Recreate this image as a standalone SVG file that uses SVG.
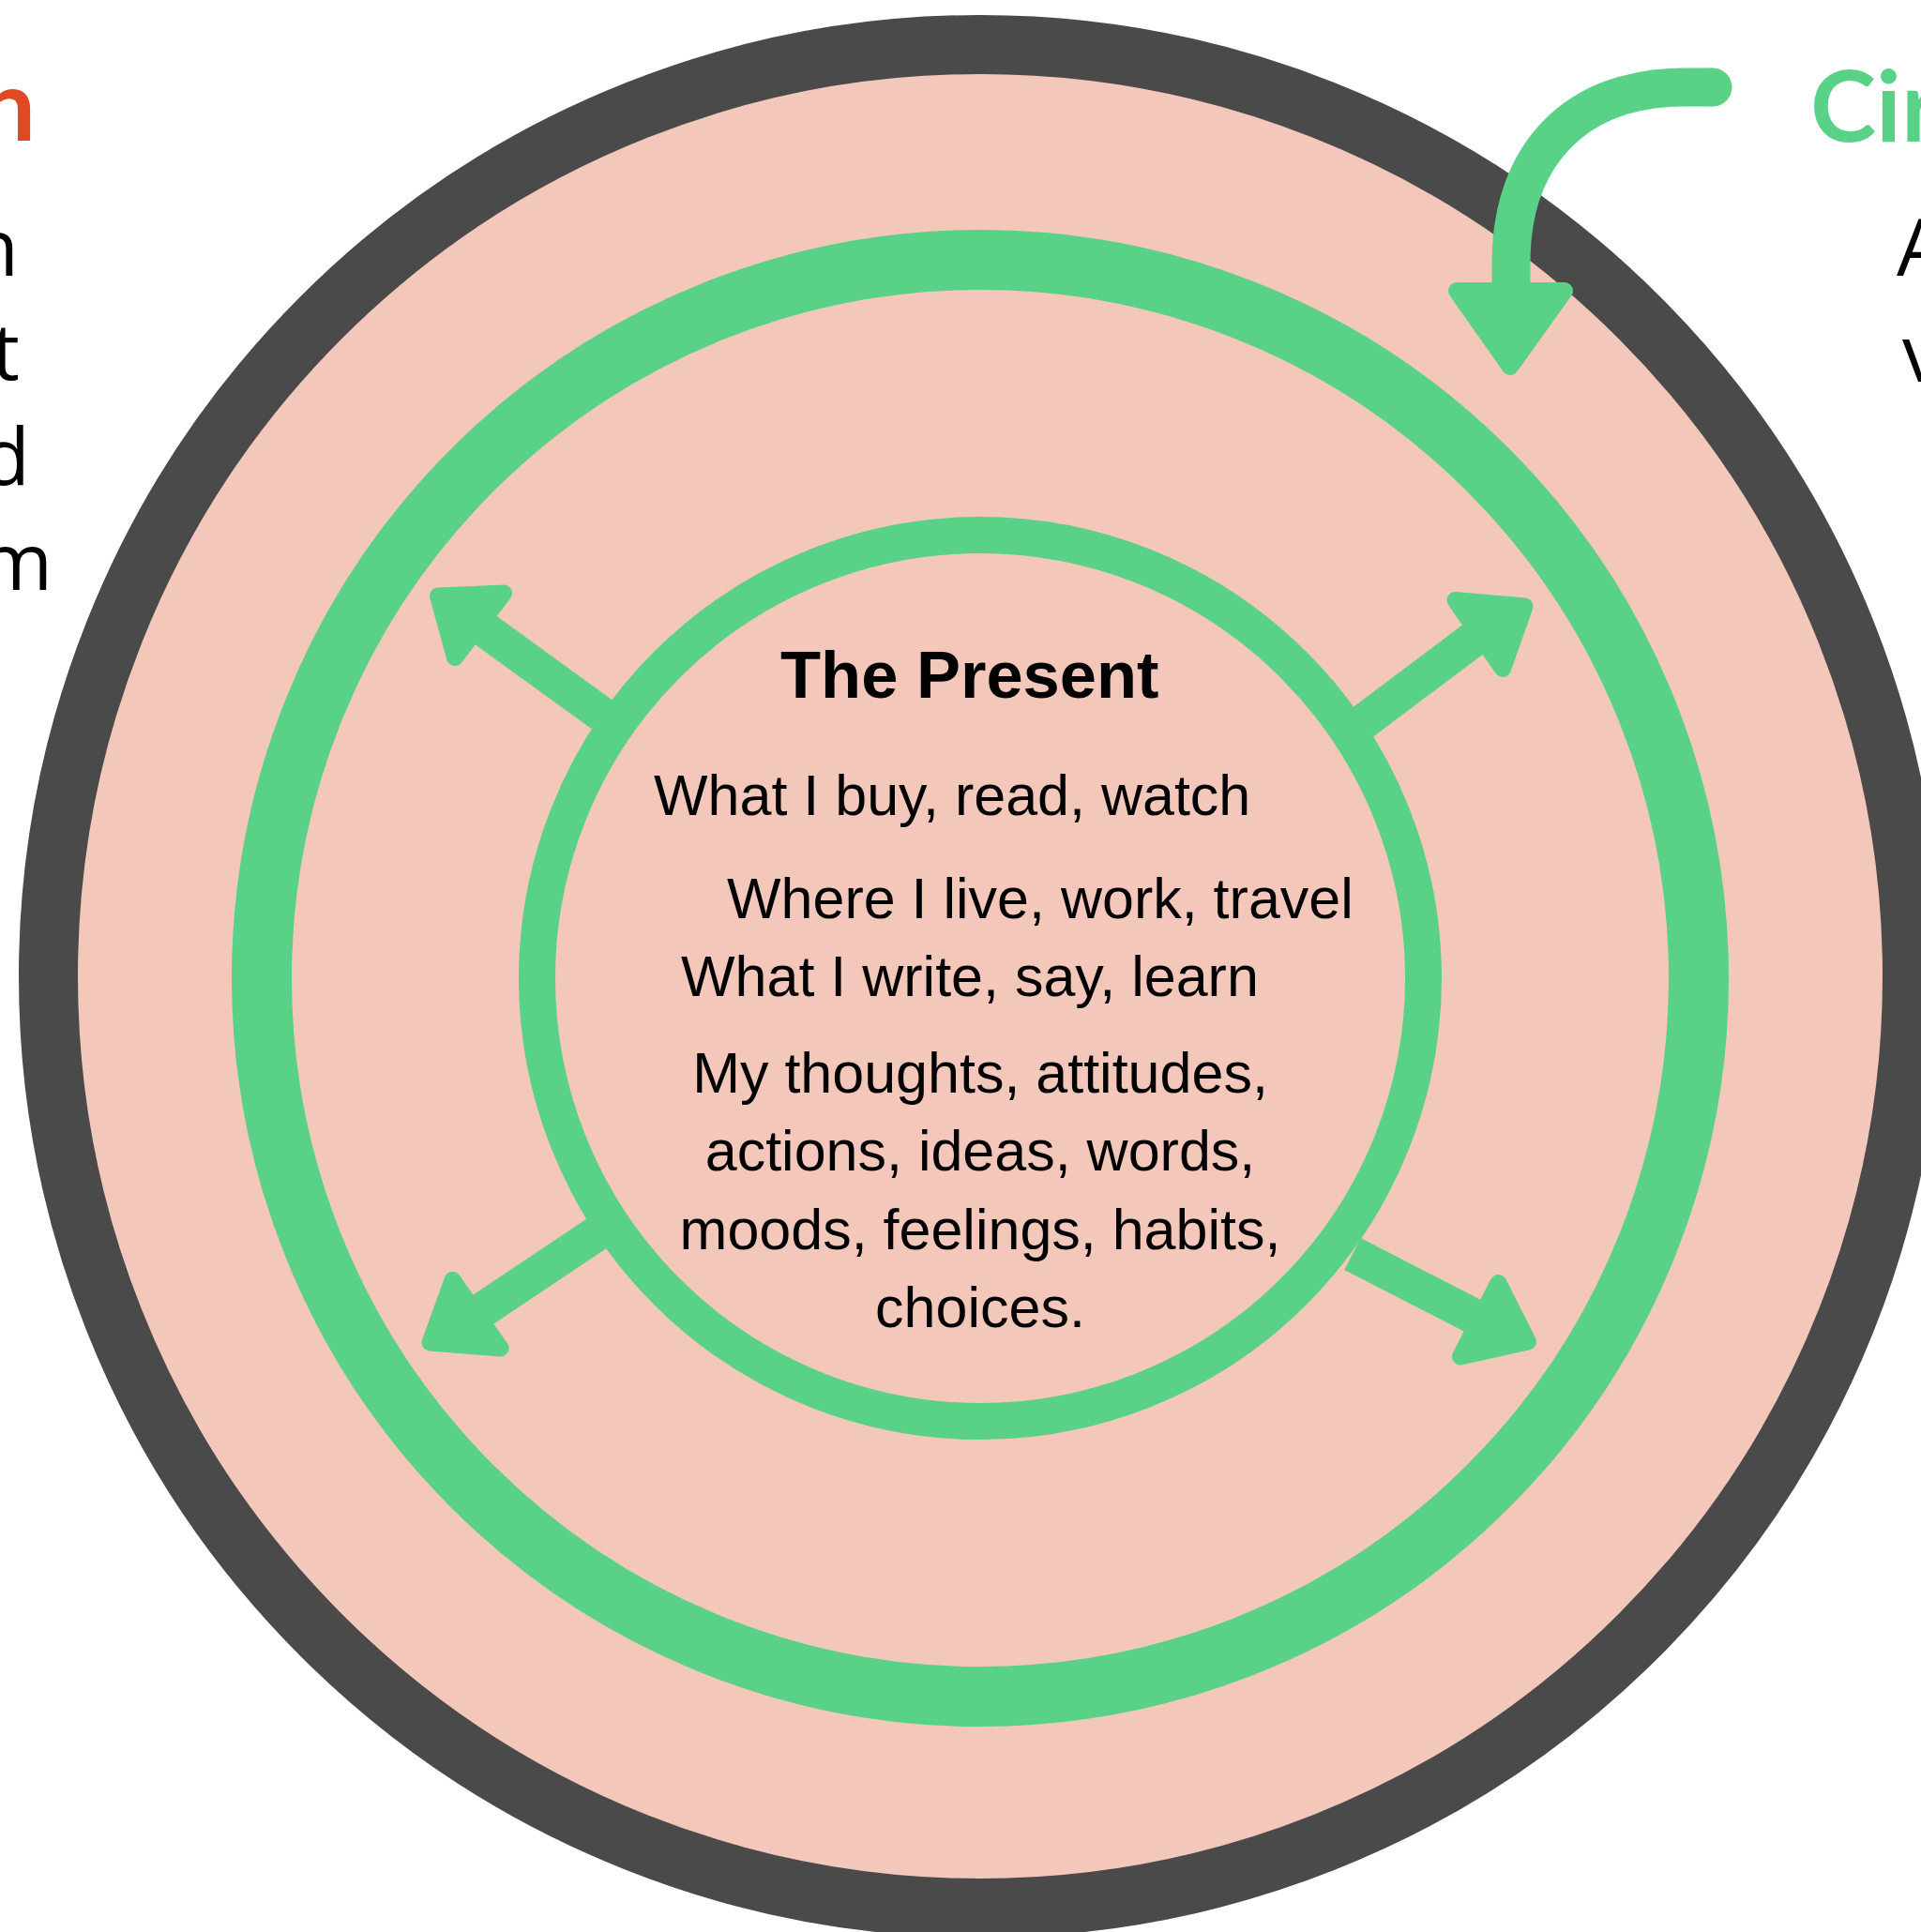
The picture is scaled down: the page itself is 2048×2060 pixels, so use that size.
<svg xmlns="http://www.w3.org/2000/svg" width="2048" height="2060" viewBox="0 0 2048 2060">
  <style>
    .ring { fill: none; stroke: #59D186; }
    .shaft { fill: none; stroke: #59D186; stroke-width: 38; stroke-linecap: butt; }
    .head { fill: #59D186; stroke: #59D186; stroke-width: 18; stroke-linejoin: round; }
    .body { font-family: "Liberation Sans", Arial, sans-serif; font-size: 61px; fill: #000; }
    .title { font-family: "Liberation Sans", Arial, sans-serif; font-size: 70.5px; font-weight: bold; fill: #000; }
    .side { font-family: "Open Sans", "Noto Sans", sans-serif; font-size: 84px; fill: #000; }
    .heading { font-family: Lato, "Open Sans", sans-serif; font-size: 106px; font-weight: bold; }
  </style>
  <rect width="2048" height="2060" fill="#FFFFFF"/>

  <g id="outer-circle">
    <circle cx="1045" cy="1041" r="993.5" fill="#F3C8BB" stroke="#4A4A4A" stroke-width="63"/>
  </g>

  <g id="middle-ring">
    <circle class="ring" cx="1045" cy="1043" r="766" stroke-width="64"/>
  </g>

  <g id="inner-ring">
    <circle class="ring" cx="1045" cy="1043" r="472.5" stroke-width="39"/>
  </g>

  <g id="connectors">
    <g id="arrow-ul">
      <line class="shaft" x1="642" y1="762" x2="514" y2="669"/>
      <polygon class="head" points="467,635.5 537,632.5 485,701"/>
    </g>
    <g id="arrow-ur">
      <line class="shaft" x1="1453" y1="770" x2="1574" y2="679"/>
      <polygon class="head" points="1625.5,646.5 1551.5,640 1602,713"/>
    </g>
    <g id="arrow-ll">
      <line class="shaft" x1="638" y1="1314" x2="511" y2="1399"/>
      <polygon class="head" points="458.5,1431.5 482.5,1365 533.5,1437.5"/>
    </g>
    <g id="arrow-lr">
      <line class="shaft" x1="1442" y1="1337" x2="1574" y2="1405"/>
      <polygon class="head" points="1629,1430.5 1597.5,1368 1557,1446.5"/>
    </g>
    <g id="arrow-curved">
      <path d="M 1826 93 L 1795 93 C 1680 93 1611 165 1611 280 L 1611 310" fill="none" stroke="#59D186" stroke-width="41" stroke-linecap="butt"/>
      <circle cx="1826" cy="93" r="20.5" fill="#59D186"/>
      <polygon class="head" points="1553,310 1668,310 1610,391" stroke-width="16"/>
    </g>
  </g>

  <g id="present-text">
    <text class="title" x="832" y="744">The Present</text>
    <text class="body" x="697" y="869">What I buy, read, watch</text>
    <text class="body" x="775" y="979">Where I live, work, travel</text>
    <text class="body" x="726" y="1062">What I write, say, learn</text>
    <text class="body" x="1045" y="1165" text-anchor="middle">My thoughts, attitudes,</text>
    <text class="body" x="1045" y="1248" text-anchor="middle">actions, ideas, words,</text>
    <text class="body" x="1045" y="1332" text-anchor="middle">moods, feelings, habits,</text>
    <text class="body" x="1045" y="1415" text-anchor="middle">choices.</text>
  </g>

  <g id="left-label">
    <text class="heading" x="38" y="150" text-anchor="end" fill="#E04A22">n</text>
    <text class="side" x="20" y="294" text-anchor="end">n</text>
    <text class="side" x="21" y="405" text-anchor="end">t</text>
    <text class="side" x="32" y="517" text-anchor="end">d</text>
    <text class="side" x="56" y="629" text-anchor="end">m</text>
  </g>

  <g id="right-label">
    <text class="heading" x="1930" y="151" fill="#59D186">Cir</text>
    <text class="side" x="2022" y="294">A</text>
    <text class="side" x="2028" y="407">v</text>
  </g>
</svg>
